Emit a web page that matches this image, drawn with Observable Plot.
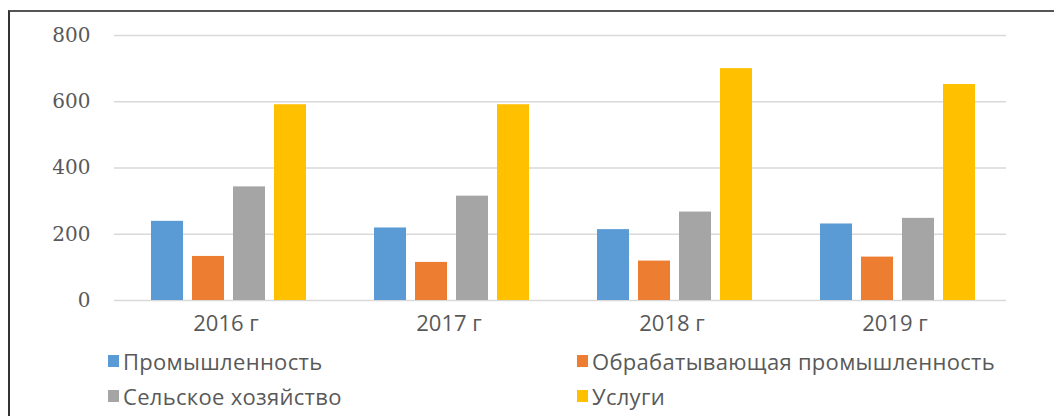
<!DOCTYPE html>
<html>
<head>
<meta charset="utf-8">
<script src="https://cdn.jsdelivr.net/npm/d3@7"></script>
<script src="https://cdn.jsdelivr.net/npm/@observablehq/plot@0.6"></script>
<style>
  html, body { margin: 0; padding: 0; background: #fff; overflow: hidden; }
  #wrap { position: relative; width: 1054px; height: 416px; }
  #frame { position: absolute; left: 8px; top: 10px; width: 1100px; height: 500px;
           border-top: 2px solid #555; border-left: 2px solid #333; pointer-events: none; }
  #chart svg { display: block; }
  #chart g[aria-label="y-axis tick label"] { font-family: "DejaVu Serif", serif; font-size: 20px; fill: #595959; }
  #chart g[aria-label="fx-axis tick label"] { font-family: "Open Sans", sans-serif; font-size: 22px; fill: #595959; }
  #legend { position: absolute; left: 0; top: 346px; width: 1054px; font-family: "Open Sans", sans-serif;
            font-size: 22px; letter-spacing: 0.3px; color: #595959; }
  .item { position: absolute; display: flex; align-items: center; white-space: nowrap; }
  .sw { width: 11px; height: 12px; margin-right: 4px; }
</style>
</head>
<body>
<div id="wrap">
  <div id="chart"></div>
  <div id="legend"></div>
  <div id="frame"></div>
</div>
<script>
const years = ["2016 г", "2017 г", "2018 г", "2019 г"];
const seriesNames = ["Промышленность", "Обрабатывающая промышленность", "Сельское хозяйство", "Услуги"];
const industry = [239, 219, 214, 231];
const manufacturing = [133, 115, 119, 131];
const agriculture = [343, 315, 267, 248];
const services = [591, 591, 700, 652];
const colors = ["#5B9BD5", "#ED7D31", "#A5A5A5", "#FFC000"];
const yTicks = [0, 200, 400, 600, 800];

const seriesValues = [industry, manufacturing, agriculture, services];
const data = years.flatMap((yr, i) => seriesNames.map((s, j) => ({year: yr, series: s, value: seriesValues[j][i]})));

const chart = Plot.plot({
  width: 1054,
  height: 345,
  marginLeft: 113,
  marginRight: 47,
  marginTop: 35,
  marginBottom: 45,
  style: {background: "transparent", color: "#595959"},
  fx: {domain: years, padding: 0, label: null, axis: "bottom", tickSize: 0, tickPadding: 15},
  x: {domain: seriesNames, paddingInner: 0.21, paddingOuter: 0.77, align: 0.55, axis: null},
  y: {domain: [0, 800], ticks: yTicks, tickSize: 0, tickPadding: 24, label: null},
  color: {domain: seriesNames, range: colors},
  marks: [
    Plot.gridY(yTicks, {stroke: "#d9d9d9", strokeOpacity: 1, strokeWidth: 1.5}),
    Plot.barY(data, {fx: "year", x: "series", y: "value", fill: "series"})
  ]
});
document.getElementById("chart").appendChild(chart);

const legend = document.getElementById("legend");
const pos = [[108, 0], [577, 0], [108, 35], [577, 35]];
seriesNames.forEach((s, i) => {
  const it = document.createElement("div");
  it.className = "item";
  it.style.left = pos[i][0] + "px";
  it.style.top = pos[i][1] + "px";
  const sw = document.createElement("span");
  sw.className = "sw";
  sw.style.background = colors[i];
  const t = document.createElement("span");
  t.textContent = s;
  it.appendChild(sw);
  it.appendChild(t);
  legend.appendChild(it);
});
</script>
</body>
</html>
